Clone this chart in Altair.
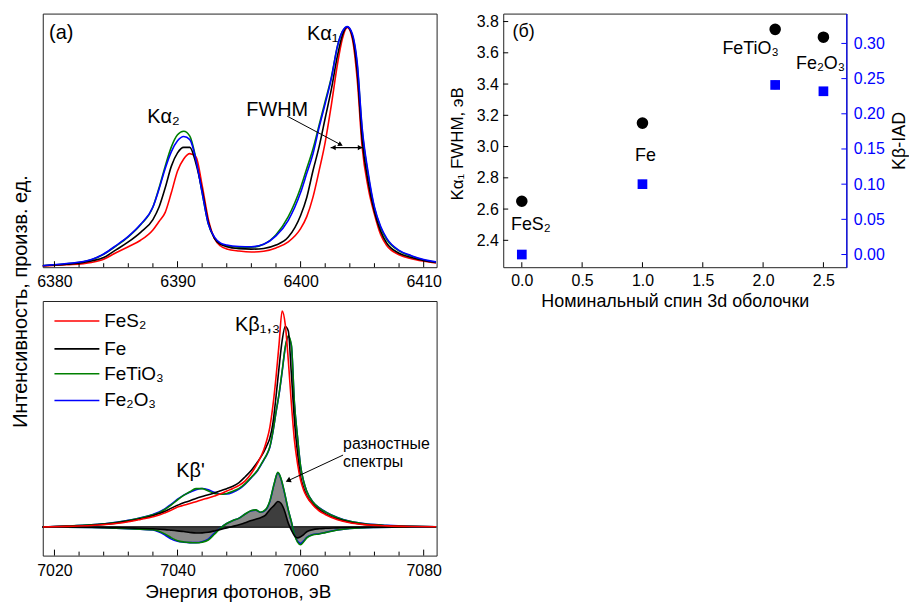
import altair as alt
import pandas as pd

FONT = "Liberation Sans"
RED, BLACK, GREEN, BLUE = "#ff0000", "#000000", "#008000", "#0000ff"

series_names = ["FeS₂", "Fe", "FeTiO₃", "Fe₂O₃"]
series_colors = [RED, BLACK, GREEN, BLUE]

# ---------------- Kα emission spectra (normalised to the Kα1 peak) ----------------
ka_energy = [6379, 6381, 6383, 6384, 6385, 6386, 6387, 6388, 6388.5, 6389, 6389.5,
             6390, 6390.5, 6391, 6391.5, 6392, 6392.5, 6393, 6393.5, 6394, 6395,
             6396, 6397, 6398, 6399, 6400, 6400.5, 6401, 6401.5, 6402, 6402.5,
             6403, 6403.4, 6403.8, 6404.2, 6404.6, 6405, 6405.5, 6406, 6406.5,
             6407, 6408, 6409, 6410, 6411]
ka_fes2 = [0.005, 0.010, 0.020, 0.033, 0.060, 0.085, 0.112, 0.155, 0.190, 0.228, 0.310,
           0.400, 0.450, 0.472, 0.458, 0.340, 0.200, 0.120, 0.088, 0.076, 0.067,
           0.063, 0.066, 0.080, 0.105, 0.160, 0.210, 0.290, 0.400, 0.520, 0.675,
           0.845, 0.950, 0.996, 0.950, 0.780, 0.500, 0.328, 0.220, 0.136,
           0.090, 0.052, 0.035, 0.025, 0.018]
ka_fe = [0.006, 0.012, 0.026, 0.040, 0.072, 0.105, 0.145, 0.198, 0.250, 0.330, 0.420,
         0.475, 0.498, 0.498, 0.430, 0.320, 0.188, 0.120, 0.095, 0.085, 0.077,
         0.075, 0.078, 0.092, 0.125, 0.215, 0.290, 0.400, 0.500, 0.620, 0.740,
         0.880, 0.965, 0.998, 0.960, 0.810, 0.530, 0.350, 0.230, 0.150,
         0.100, 0.058, 0.040, 0.028, 0.020]
ka_fetio3 = [0.006, 0.014, 0.031, 0.054, 0.088, 0.126, 0.176, 0.250, 0.330, 0.420, 0.500,
             0.550, 0.565, 0.545, 0.450, 0.310, 0.180, 0.122, 0.097, 0.089, 0.083,
             0.083, 0.095, 0.135, 0.210, 0.330, 0.410, 0.490, 0.590, 0.690, 0.790,
             0.920, 0.980, 0.998, 0.965, 0.840, 0.570, 0.380, 0.245, 0.165,
             0.115, 0.068, 0.046, 0.030, 0.021]
ka_fe2o3 = [0.006, 0.015, 0.032, 0.055, 0.090, 0.128, 0.178, 0.250, 0.325, 0.410, 0.480,
            0.525, 0.543, 0.530, 0.445, 0.310, 0.180, 0.125, 0.100, 0.092, 0.086,
            0.085, 0.095, 0.130, 0.195, 0.310, 0.390, 0.470, 0.580, 0.680, 0.785,
            0.920, 0.980, 1.000, 0.970, 0.850, 0.580, 0.390, 0.250, 0.170,
            0.120, 0.070, 0.048, 0.032, 0.022]

# ---------------- Kβ emission spectra ----------------
kb_energy = [7018, 7022, 7026, 7030, 7032, 7034, 7036, 7037, 7038, 7039, 7040, 7041,
             7042, 7043, 7044, 7045, 7046, 7047, 7048, 7049, 7050, 7051, 7052, 7053,
             7054, 7054.5, 7055, 7055.5, 7056, 7056.5, 7057, 7057.5, 7058, 7058.5,
             7059, 7059.5, 7060, 7060.5, 7061, 7062, 7063, 7064, 7066, 7068, 7070,
             7074, 7078, 7082]
kb_fes2 = [0.000, 0.003, 0.007, 0.016, 0.024, 0.035, 0.047, 0.055, 0.066, 0.078, 0.092, 0.100,
           0.108, 0.117, 0.126, 0.134, 0.143, 0.153, 0.166, 0.178, 0.192, 0.213, 0.248, 0.295,
           0.355, 0.400, 0.460, 0.560, 0.690, 0.844, 0.997, 0.936, 0.770, 0.570,
           0.400, 0.293, 0.217, 0.170, 0.140, 0.102, 0.075, 0.058, 0.034, 0.020, 0.012,
           0.005, 0.002, 0.001]
kb_fe = [0.000, 0.003, 0.008, 0.018, 0.027, 0.038, 0.052, 0.062, 0.073, 0.087, 0.100, 0.112,
         0.121, 0.132, 0.141, 0.149, 0.157, 0.167, 0.177, 0.188, 0.205, 0.232, 0.262, 0.300,
         0.345, 0.375, 0.410, 0.480, 0.600, 0.737, 0.860, 0.925, 0.905, 0.706,
         0.490, 0.340, 0.232, 0.180, 0.145, 0.105, 0.080, 0.062, 0.037, 0.022, 0.013,
         0.006, 0.002, 0.001]
kb_fetio3 = [0.000, 0.004, 0.010, 0.021, 0.030, 0.041, 0.056, 0.066, 0.082, 0.102, 0.125, 0.146,
             0.163, 0.177, 0.177, 0.166, 0.155, 0.151, 0.155, 0.165, 0.178, 0.200, 0.230, 0.262,
             0.310, 0.335, 0.370, 0.440, 0.530, 0.615, 0.720, 0.830, 0.882, 0.840,
             0.570, 0.416, 0.280, 0.210, 0.165, 0.115, 0.088, 0.070, 0.043, 0.026, 0.016,
             0.007, 0.003, 0.001]
kb_fe2o3 = [0.000, 0.004, 0.010, 0.022, 0.031, 0.043, 0.058, 0.069, 0.085, 0.106, 0.128, 0.147,
            0.160, 0.172, 0.178, 0.172, 0.160, 0.152, 0.152, 0.160, 0.175, 0.198, 0.228, 0.260,
            0.308, 0.333, 0.368, 0.438, 0.528, 0.612, 0.716, 0.826, 0.878, 0.836,
            0.568, 0.414, 0.280, 0.210, 0.165, 0.116, 0.089, 0.071, 0.044, 0.027, 0.017,
            0.008, 0.003, 0.001]

# difference spectra relative to FeS2
diff_energy = [7018, 7026, 7030, 7033, 7036, 7038, 7039, 7040, 7041, 7042, 7043, 7044,
               7045, 7046, 7047, 7048, 7049, 7050, 7051, 7052, 7052.7, 7053.5, 7054.3,
               7055, 7055.7, 7056.3, 7056.8, 7057.3, 7058, 7058.5, 7059, 7059.5, 7060,
               7060.5, 7061, 7062, 7063, 7064, 7066, 7068, 7072, 7078, 7082]
diff_fe = [0.000, -0.001, -0.003, -0.005, -0.008, -0.012, -0.015, -0.018, -0.021, -0.025, -0.028, -0.027,
           -0.024, -0.018, -0.011, -0.004, 0.003, 0.010, 0.020, 0.030, 0.036, 0.043, 0.055,
           0.080, 0.100, 0.118, 0.110, 0.082, 0.018, -0.015, -0.040, -0.050, -0.045,
           -0.035, -0.022, -0.012, -0.008, -0.006, -0.004, -0.002, -0.001, 0.000, 0.000]
diff_fetio3 = [0.000, -0.002, -0.005, -0.009, -0.013, -0.033, -0.050, -0.063, -0.069, -0.072, -0.073, -0.070,
               -0.060, -0.033, -0.005, 0.016, 0.030, 0.041, 0.060, 0.076, 0.079, 0.068, 0.080,
               0.120, 0.200, 0.252, 0.225, 0.170, 0.079, 0.025, -0.035, -0.070, -0.082,
               -0.068, -0.050, -0.036, -0.032, -0.026, -0.014, -0.007, -0.002, 0.000, 0.000]
diff_fe2o3 = [0.000, -0.002, -0.005, -0.009, -0.014, -0.038, -0.056, -0.066, -0.070, -0.072, -0.072, -0.068,
              -0.056, -0.028, -0.004, 0.016, 0.030, 0.041, 0.060, 0.075, 0.078, 0.068, 0.078,
              0.118, 0.198, 0.250, 0.223, 0.168, 0.078, 0.024, -0.034, -0.066, -0.076,
              -0.064, -0.048, -0.035, -0.031, -0.025, -0.014, -0.007, -0.002, 0.000, 0.000]

# ---------------- (б): Kα1 width and Kβ IAD versus nominal 3d spin ----------------
spin = [0.0, 1.0, 2.1, 2.5]
ka1_fwhm = [2.65, 3.15, 3.75, 3.70]
kb_iad = [0.000, 0.100, 0.241, 0.232]
kb_iad_err = [0.006, 0.006, 0.006, 0.006]

# tick values
ka_ticks = [6380, 6390, 6400, 6410]
kb_ticks = [7020, 7040, 7060, 7080]
spin_ticks = [0.0, 0.5, 1.0, 1.5, 2.0, 2.5]
fwhm_ticks = [2.4, 2.6, 2.8, 3.0, 3.2, 3.4, 3.6, 3.8]
iad_ticks = [0.00, 0.05, 0.10, 0.15, 0.20, 0.25, 0.30]

ka_minor = [e for e in range(6380, 6411, 2) if e not in ka_ticks]
kb_minor = [e for e in range(7020, 7081, 4) if e not in kb_ticks]

# ---------------- layout ----------------
WL, HA, HB = 396, 255, 256
WR, HR = 345, 255
LINE_W = 1.6
TICK_FS = 16

ka_xs = alt.Scale(domain=[6379.05, 6411.05], nice=False, zero=False)
ka_ys = alt.Scale(domain=[0.0, 1.054], nice=False, zero=False)
kb_xs = alt.Scale(domain=[7018.1, 7082.1], nice=False, zero=False)
kb_ys = alt.Scale(domain=[-0.132, 1.043], nice=False, zero=False)

ka_xaxis = alt.Axis(values=ka_ticks, format="d", ticks=False, tickSize=0, domain=False,
                    grid=False, labelFontSize=TICK_FS, labelPadding=6, title=None)
ka_yaxis = alt.Axis(labels=False, ticks=False, tickSize=0, domain=False, grid=False,
                    title="Интенсивность, произв. ед.", titleFontSize=20,
                    titleFontWeight="normal", titleAngle=270, titleBaseline="middle",
                    titleX=-22, titleY=289)
kb_xaxis = alt.Axis(values=kb_ticks, format="d", ticks=False, tickSize=0, domain=False,
                    grid=False, labelFontSize=TICK_FS, labelPadding=7,
                    title="Энергия фотонов, эВ", titleFontSize=19,
                    titleFontWeight="normal", titleBaseline="middle", titleX=WL / 2 - 2, titleY=36)
kb_yaxis = alt.Axis(labels=False, ticks=False, tickSize=0, domain=False, grid=False, title=None)


def spectrum(xs, ys, energy, values, color, xaxis, yaxis):
    df = pd.DataFrame({"E": energy, "I": values})
    return alt.Chart(df).mark_line(color=color, strokeWidth=LINE_W, interpolate="monotone",
                                   clip=True).encode(
        x=alt.X("E:Q", scale=xs, axis=xaxis),
        y=alt.Y("I:Q", scale=ys, axis=yaxis))


def inward_ticks(xs, xaxis, values, height, length):
    df = pd.DataFrame({"E": values})
    return alt.Chart(df).mark_rule(color="black", strokeWidth=1).encode(
        x=alt.X("E:Q", scale=xs, axis=xaxis),
        y=alt.value(height), y2=alt.value(height - length))


def notes(xs, ys, xaxis, yaxis, rows, size, align="center", baseline="middle"):
    df = pd.DataFrame(rows, columns=["text", "E", "I"])
    return alt.Chart(df).mark_text(fontSize=size, align=align, baseline=baseline,
                                   color="black", font=FONT).encode(
        x=alt.X("E:Q", scale=xs, axis=xaxis),
        y=alt.Y("I:Q", scale=ys, axis=yaxis),
        text="text:N")


def segment(xs, ys, xaxis, yaxis, e1, i1, e2, i2, width=1):
    df = pd.DataFrame({"E": [e1], "I": [i1], "E2": [e2], "I2": [i2]})
    return alt.Chart(df).mark_rule(color="black", strokeWidth=width).encode(
        x=alt.X("E:Q", scale=xs, axis=xaxis), y=alt.Y("I:Q", scale=ys, axis=yaxis),
        x2="E2:Q", y2="I2:Q")


def head(xs, ys, xaxis, yaxis, e, i, angle, shape="triangle-right", size=36):
    df = pd.DataFrame({"E": [e], "I": [i]})
    return alt.Chart(df).mark_point(shape=shape, filled=True, size=size, color="black",
                                    opacity=1, angle=angle).encode(
        x=alt.X("E:Q", scale=xs, axis=xaxis), y=alt.Y("I:Q", scale=ys, axis=yaxis))


# ---------------- panel (а): Kα ----------------
ka_series = {"FeS₂": ka_fes2, "Fe": ka_fe, "FeTiO₃": ka_fetio3, "Fe₂O₃": ka_fe2o3}
ka_layers = [spectrum(ka_xs, ka_ys, ka_energy, ka_series[n], c, ka_xaxis, ka_yaxis)
             for n, c in [("FeTiO₃", GREEN), ("FeS₂", RED), ("Fe", BLACK), ("Fe₂O₃", BLUE)]]
ka_layers += [
    inward_ticks(ka_xs, ka_xaxis, ka_ticks, HA, 6),
    inward_ticks(ka_xs, ka_xaxis, ka_minor, HA, 4),
    notes(ka_xs, ka_ys, ka_xaxis, ka_yaxis,
          [("(а)", 6380.55, 0.972), ("Kα₁", 6401.8, 0.968), ("Kα₂", 6388.85, 0.622),
           ("FWHM", 6398.1, 0.655)], size=20),
    # FWHM marker: double arrow across the Kα1 half maximum and a pointer from the label
    segment(ka_xs, ka_ys, ka_xaxis, ka_yaxis, 6402.44, 0.497, 6405.06, 0.497, 1.3),
    head(ka_xs, ka_ys, ka_xaxis, ka_yaxis, 6402.66, 0.497, 0, "triangle-left", 30),
    head(ka_xs, ka_ys, ka_xaxis, ka_yaxis, 6404.84, 0.497, 0, "triangle-right", 30),
    segment(ka_xs, ka_ys, ka_xaxis, ka_yaxis, 6398.9, 0.628, 6403.3, 0.508, 1),
    head(ka_xs, ka_ys, ka_xaxis, ka_yaxis, 6403.25, 0.509, 27.7, "triangle-right", 30),
]
panel_a = alt.layer(*ka_layers).properties(width=WL, height=HA)

# ---------------- panel: Kβ ----------------
kb_series = {"FeS₂": kb_fes2, "Fe": kb_fe, "FeTiO₃": kb_fetio3, "Fe₂O₃": kb_fe2o3}
diff_df = pd.DataFrame({"E": diff_energy, "Dfe": diff_fe, "Dti": diff_fetio3, "Dox": diff_fe2o3})


def diff_area(field, color):
    return alt.Chart(diff_df).mark_area(color=color, opacity=1, interpolate="monotone").encode(
        x=alt.X("E:Q", scale=kb_xs, axis=kb_xaxis),
        y=alt.Y(f"{field}:Q", scale=kb_ys, axis=kb_yaxis),
        y2=alt.datum(0))


def diff_line(field, color):
    return alt.Chart(diff_df).mark_line(color=color, strokeWidth=LINE_W,
                                        interpolate="monotone").encode(
        x=alt.X("E:Q", scale=kb_xs, axis=kb_xaxis),
        y=alt.Y(f"{field}:Q", scale=kb_ys, axis=kb_yaxis))


zero_line = alt.Chart(pd.DataFrame({"E": [7018.1], "E2": [7082.1], "I": [0.0]})).mark_rule(
    color="#303030", strokeWidth=2).encode(
    x=alt.X("E:Q", scale=kb_xs, axis=kb_xaxis), x2="E2:Q",
    y=alt.Y("I:Q", scale=kb_ys, axis=kb_yaxis))

legend_y = [0.951, 0.822, 0.707, 0.584]
legend_df = pd.DataFrame({"name": series_names, "I": legend_y})
legend_scale = alt.Scale(domain=series_names, range=series_colors)
legend_lines = alt.Chart(legend_df).mark_rule(strokeWidth=LINE_W).encode(
    x=alt.datum(7020.0, scale=kb_xs), x2=alt.datum(7027.3),
    y=alt.Y("I:Q", scale=kb_ys, axis=kb_yaxis),
    color=alt.Color("name:N", scale=legend_scale, legend=None))
legend_text = alt.Chart(legend_df).mark_text(fontSize=19, align="left", baseline="middle",
                                             font=FONT, color="black").encode(
    x=alt.datum(7028.1, scale=kb_xs),
    y=alt.Y("I:Q", scale=kb_ys, axis=kb_yaxis),
    text="name:N")

kb_layers = [
    diff_area("Dti", "#8a8a8a"),
    diff_area("Dfe", "#3e3e3e"),
    zero_line,
    diff_line("Dox", BLUE),
    diff_line("Dti", GREEN),
    diff_line("Dfe", BLACK),
]
kb_layers += [spectrum(kb_xs, kb_ys, kb_energy, kb_series[n], c, kb_xaxis, kb_yaxis)
              for n, c in [("Fe₂O₃", BLUE), ("FeTiO₃", GREEN), ("Fe", BLACK), ("FeS₂", RED)]]
kb_layers += [
    inward_ticks(kb_xs, kb_xaxis, kb_ticks, HB, 6),
    inward_ticks(kb_xs, kb_xaxis, kb_minor, HB, 4),
    legend_lines, legend_text,
    notes(kb_xs, kb_ys, kb_xaxis, kb_yaxis, [("Kβ₁,₃", 7053.0, 0.933), ("Kβ'", 7042.1, 0.259)],
          size=20),
    notes(kb_xs, kb_ys, kb_xaxis, kb_yaxis, [("разностные", 7066.9, 0.362), ("спектры", 7066.9, 0.277)],
          size=16, align="left", baseline="alphabetic"),
    segment(kb_xs, kb_ys, kb_xaxis, kb_yaxis, 7066.9, 0.332, 7058.0, 0.214, 1),
    head(kb_xs, kb_ys, kb_xaxis, kb_yaxis, 7057.97, 0.214, 155, "triangle-right", 36),
]
panel_b = alt.layer(*kb_layers).properties(width=WL, height=HB)

# ---------------- panel (б) ----------------
sx = alt.Scale(domain=[-0.154, 2.69], nice=False, zero=False)
sy_l = alt.Scale(domain=[2.228, 3.851], nice=False, zero=False)
sy_r = alt.Scale(domain=[-0.018, 0.3424], nice=False, zero=False)

s_xaxis = alt.Axis(values=spin_ticks, format=".1f", ticks=False, tickSize=0, domain=False,
                   grid=False, labelFontSize=TICK_FS, labelPadding=5,
                   title="Номинальный спин 3d оболочки", titleFontSize=18,
                   titleFontWeight="normal", titleBaseline="middle", titleX=WR / 2, titleY=35)
s_laxis = alt.Axis(values=fwhm_ticks, format=".1f", ticks=False, tickSize=0, domain=False,
                   grid=False, labelFontSize=TICK_FS, labelPadding=5,
                   title="Kα₁ FWHM, эВ", titleFontSize=17, titleFontWeight="normal",
                   titleAngle=270, titleBaseline="middle", titleX=-46, titleY=HR / 2 + 3)
s_raxis = alt.Axis(orient="right", values=iad_ticks, format=".2f", ticks=False, tickSize=0,
                   domain=True, domainColor=BLUE, domainWidth=1.2, grid=False,
                   labelColor=BLUE, labelFontSize=TICK_FS, labelPadding=7,
                   title="Kβ-IAD", titleColor="black", titleFontSize=18,
                   titleFontWeight="normal", titleAngle=270, titleBaseline="middle",
                   titleX=53, titleY=HR / 2)

spin_df = pd.DataFrame({"spin": spin, "name": series_names, "fwhm": ka1_fwhm, "iad": kb_iad,
                        "lo": [v - e for v, e in zip(kb_iad, kb_iad_err)],
                        "hi": [v + e for v, e in zip(kb_iad, kb_iad_err)]})

circles = alt.Chart(spin_df).mark_circle(size=135, color="black", opacity=1).encode(
    x=alt.X("spin:Q", scale=sx, axis=s_xaxis),
    y=alt.Y("fwhm:Q", scale=sy_l, axis=s_laxis))
compound_notes = pd.DataFrame({"name": ["FeS₂", "Fe", "FeTiO₃", "Fe₂O₃", "(б)"],
                               "spin": [0.075, 1.025, 1.896, 2.476, 0.015],
                               "fwhm": [2.50, 2.937, 3.625, 3.528, 3.735]})
compound_text = alt.Chart(compound_notes).mark_text(fontSize=18, font=FONT, color="black",
                                                    baseline="middle").encode(
    x=alt.X("spin:Q", scale=sx, axis=s_xaxis),
    y=alt.Y("fwhm:Q", scale=sy_l, axis=s_laxis),
    text="name:N")
x_ticks_r = alt.Chart(pd.DataFrame({"spin": spin_ticks})).mark_rule(color="black").encode(
    x=alt.X("spin:Q", scale=sx, axis=s_xaxis), y=alt.value(HR), y2=alt.value(HR - 5))
l_ticks = alt.Chart(pd.DataFrame({"fwhm": fwhm_ticks})).mark_rule(color="black").encode(
    y=alt.Y("fwhm:Q", scale=sy_l, axis=s_laxis), x=alt.value(0), x2=alt.value(5))

left_group = alt.layer(circles, compound_text, x_ticks_r, l_ticks)

err = alt.Chart(spin_df).mark_rule(color=BLUE, strokeWidth=3).encode(
    x=alt.X("spin:Q", scale=sx, axis=s_xaxis),
    y=alt.Y("lo:Q", scale=sy_r, axis=s_raxis), y2="hi:Q")
squares = alt.Chart(spin_df).mark_square(size=95, color=BLUE, opacity=1).encode(
    x=alt.X("spin:Q", scale=sx, axis=s_xaxis),
    y=alt.Y("iad:Q", scale=sy_r, axis=s_raxis))
r_ticks = alt.Chart(pd.DataFrame({"iad": iad_ticks})).mark_rule(color=BLUE).encode(
    y=alt.Y("iad:Q", scale=sy_r, axis=s_raxis), x=alt.value(WR), x2=alt.value(WR - 5))

right_group = alt.layer(err, squares, r_ticks)

panel_c = alt.layer(left_group, right_group).resolve_scale(y="independent").properties(
    width=WR, height=HR)

chart = alt.concat(panel_a, panel_c, panel_b, columns=2,
                   spacing={"row": 34, "column": 67}, bounds="flush").properties(
    padding={"left": 10, "top": 11, "right": 0, "bottom": 0}
).configure_view(stroke="#222222", strokeWidth=1).configure_axis(
    labelFont=FONT, titleFont=FONT, labelColor="black", titleColor="black"
).configure_text(font=FONT)

chart.save("out.html", embed_options={"renderer": "svg", "actions": False})
